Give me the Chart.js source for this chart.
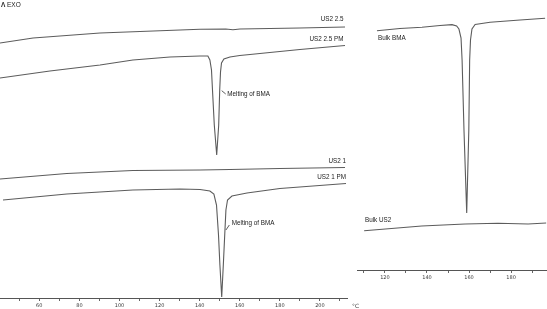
<!DOCTYPE html>
<html lang="en">
<head>
<meta charset="UTF-8">
<title>DSC curves</title>
<script src="https://cdn.jsdelivr.net/npm/chart.js"></script>
<style>
    body { margin: 0; background: #fff; }
    .wrap { position: relative; width: 547px; height: 309px; overflow: hidden; }
    canvas { position: absolute; top: 0; }
    #leftChart { left: 0; }
    #rightChart { left: 357px; }
</style>
</head>
<body>
<div class="wrap">
    <canvas id="leftChart" width="365" height="309"></canvas>
    <canvas id="rightChart" width="190" height="309"></canvas>
</div>
<script>
// left panel: temperature (°C) and heat flow (arbitrary units, exo up)
const us25Temp = [40.4, 56.9, 90.3, 140.2, 153.0, 156.6, 160.1, 190.0, 212.5];
const us25Flow = [25.5, 26.0, 26.5, 26.88, 26.9, 26.82, 26.9, 27.0, 27.1];

const us25pmTemp = [40.4, 65.3, 90.3, 106.7, 125.2, 140.2, 144.1, 145.1, 145.9, 146.4, 147.3, 148.5, 149.5, 150.0, 150.4, 150.9, 152.1, 155.1, 160.0, 165.1, 175.0, 190.0, 212.5];
const us25pmFlow = [22.0, 22.7, 23.3, 23.8, 24.1, 24.2, 24.2, 23.8, 22.8, 20.8, 17.3, 14.3, 17.3, 20.8, 22.6, 23.5, 23.9, 24.1, 24.25, 24.35, 24.55, 24.85, 25.25];

const us21Temp = [40.4, 73.7, 106.7, 140.2, 155.1, 180.0, 212.5];
const us21Flow = [11.9, 12.45, 12.75, 12.8, 12.85, 12.95, 13.05];

const us21pmTemp = [41.9, 73.7, 106.7, 130.2, 140.2, 145.1, 147.1, 148.4, 149.4, 150.1, 151.0, 151.8, 152.5, 153.1, 153.9, 156.1, 163.6, 180.0, 213.0];
const us21pmFlow = [9.8, 10.4, 10.8, 10.9, 10.85, 10.7, 10.4, 9.3, 6.3, 3.3, 0.1, 3.3, 6.3, 8.8, 9.8, 10.2, 10.5, 10.95, 11.45];

// right panel: bulk references
const bmaTemp = [116.2, 127.1, 137.6, 146.2, 151.9, 154.1, 155.2, 156.2, 156.7, 157.6, 158.9, 159.9, 160.3, 160.7, 161.4, 162.9, 170.0, 184.3, 196.2];
const bmaFlow = [23.93, 24.15, 24.27, 24.45, 24.54, 24.4, 24.1, 23.2, 21.0, 14.0, 5.7, 14.0, 21.0, 23.0, 24.1, 24.55, 24.77, 25.0, 25.17];

const bulkUs2Temp = [110.1, 137.5, 158.1, 173.8, 188.1, 196.7];
const bulkUs2Flow = [3.93, 4.4, 4.6, 4.67, 4.6, 4.7];

// axis ticks
const leftTicks = [50, 60, 70, 80, 90, 100, 110, 120, 130, 140, 150, 160, 170, 180, 190, 200, 210];
const rightTicks = [110, 120, 130, 140, 150, 160, 170, 180, 190];

// text labels, placed in data units
const leftLabels = [
    { text: 'US2 2.5', x: 211.7, y: 27.87, align: 'right' },
    { text: 'US2 2.5 PM', x: 211.7, y: 25.87, align: 'right' },
    { text: 'US2 1', x: 213.0, y: 13.67, align: 'right' },
    { text: 'US2 1 PM', x: 213.0, y: 12.07, align: 'right' },
    { text: 'Melting of BMA', x: 153.8, y: 20.37, align: 'left', from: [151.0, 20.73], to: [153.0, 20.4] },
    { text: 'Melting of BMA', x: 156.0, y: 7.47, align: 'left', from: [153.1, 6.8], to: [154.8, 7.3] }
];
const rightLabels = [
    { text: 'Bulk BMA', x: 116.7, y: 23.2, align: 'left' },
    { text: 'Bulk US2', x: 110.5, y: 4.93, align: 'left' }
];

const LINE = '#5c5c5c';
const FONT = '"Liberation Sans", Arial, sans-serif';

function toPoints(xs, ys) {
    return xs.map((x, i) => ({ x: x, y: ys[i] }));
}

function series(xs, ys) {
    return {
        data: toPoints(xs, ys),
        borderColor: LINE,
        borderWidth: 1.1,
        pointRadius: 0,
        tension: 0,
        fill: false
    };
}

// draws curve names, annotation leaders and the extra axis text
const labelPlugin = {
    id: 'labels',
    afterDatasetsDraw(chart, args, opts) {
        const ctx = chart.ctx;
        const xs = chart.scales.x, ys = chart.scales.y;
        ctx.save();
        ctx.fillStyle = '#222';
        ctx.textBaseline = 'middle';
        ctx.font = '6.3px ' + FONT;
        opts.items.forEach(l => {
            ctx.textAlign = l.align;
            ctx.fillText(l.text, xs.getPixelForValue(l.x), ys.getPixelForValue(l.y));
            if (l.from) {
                ctx.strokeStyle = '#333';
                ctx.lineWidth = 0.8;
                ctx.beginPath();
                ctx.moveTo(xs.getPixelForValue(l.from[0]), ys.getPixelForValue(l.from[1]));
                ctx.lineTo(xs.getPixelForValue(l.to[0]), ys.getPixelForValue(l.to[1]));
                ctx.stroke();
            }
        });
        if (opts.unit) {
            ctx.font = '5.8px "DejaVu Sans", sans-serif';
            ctx.textAlign = 'left';
            ctx.fillStyle = '#444';
            ctx.fillText('°C', chart.chartArea.right + 5, chart.chartArea.bottom + 8);
        }
        if (opts.exo) {
            ctx.font = 'bold 6.5px ' + FONT;
            ctx.textAlign = 'left';
            ctx.fillStyle = '#222';
            ctx.fillText('Λ', 1, 5);
            ctx.font = '6.5px ' + FONT;
            ctx.fillText('EXO', 7, 5);
        }
        ctx.restore();
    }
};

function makeChart(id, datasets, xMin, xMax, yMax, ticks, labelEvery, axisHeight, padRight, plugOpts) {
    return new Chart(document.getElementById(id), {
        type: 'line',
        data: { datasets: datasets },
        options: {
            responsive: false,
            animation: false,
            devicePixelRatio: 1,
            layout: { padding: { left: 0, right: padRight, top: 0, bottom: 0 } },
            plugins: {
                legend: { display: false },
                tooltip: { enabled: false },
                labels: plugOpts
            },
            scales: {
                x: {
                    type: 'linear',
                    min: xMin,
                    max: xMax,
                    afterBuildTicks: s => { s.ticks = ticks.map(v => ({ value: v })); },
                    afterFit: s => { s.height = axisHeight; },
                    border: { display: true, color: '#555', width: 1 },
                    grid: { drawOnChartArea: false, drawTicks: true, tickLength: 3, color: '#666' },
                    ticks: {
                        autoSkip: false,
                        maxRotation: 0,
                        padding: 2,
                        color: '#3a3a3a',
                        font: { family: '"DejaVu Sans", sans-serif', size: 5 },
                        callback: v => (v % labelEvery === 0 ? String(v) : '')
                    }
                },
                y: { display: false, min: 0, max: yMax }
            }
        },
        plugins: [labelPlugin]
    });
}

makeChart('leftChart', [
    series(us25Temp, us25Flow),
    series(us25pmTemp, us25pmFlow),
    series(us21Temp, us21Flow),
    series(us21pmTemp, us21pmFlow)
], 40.4, 213.5, 29.8, leftTicks, 20, 11, 18, { items: leftLabels, unit: true, exo: true });

makeChart('rightChart', [
    series(bmaTemp, bmaFlow),
    series(bulkUs2Temp, bulkUs2Flow)
], 106.7, 197.1, 27.0, rightTicks, 20, 39, 0, { items: rightLabels });
</script>
</body>
</html>
